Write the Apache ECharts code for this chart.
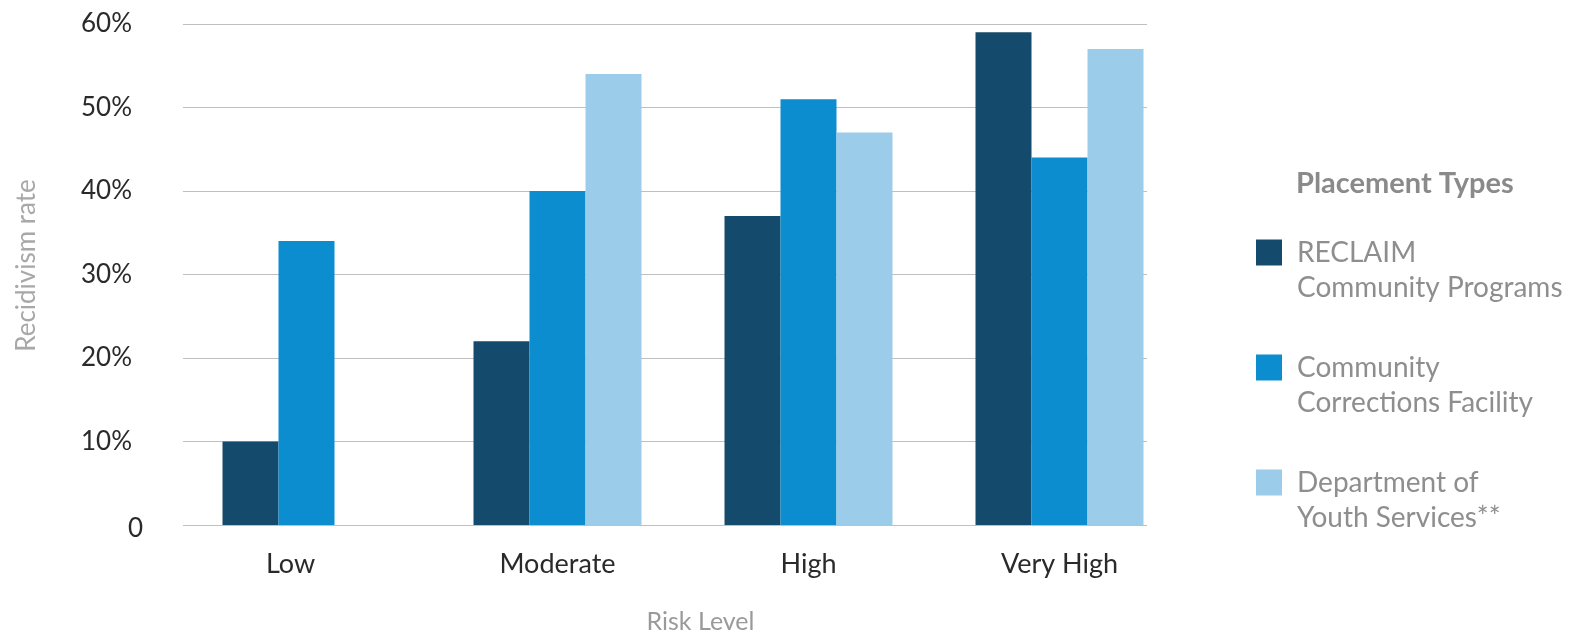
<!DOCTYPE html>
<html>
<head>
<meta charset="utf-8">
<script src="https://cdn.jsdelivr.net/npm/echarts@6/dist/echarts.min.js"></script>
<style>
  html, body { margin: 0; padding: 0; background: #ffffff; }
  #chart { width: 1577px; height: 635px; }
</style>
</head>
<body>
<div id="chart"></div>
<script>
// Risk levels along the horizontal axis
const riskLevels = ['Low', 'Moderate', 'High', 'Very High'];

// Recidivism rate (%) for each placement type
const reclaimPrograms = [10, 22, 37, 59];
const correctionsFacility = [34, 40, 51, 44];
const youthServices = [null, 54, 47, 57];

// Series names as shown in the legend
const seriesNames = [
  'RECLAIM\nCommunity Programs',
  'Community\nCorrections Facility',
  'Department of\nYouth Services**'
];
const seriesColors = ['#144a6b', '#0b8dcf', '#9bcdea'];

// Value axis ticks
const rateMin = 0;
const rateMax = 60;
const rateStep = 10;

const FONT = 'Lato, "Open Sans", sans-serif';

const chart = echarts.init(document.getElementById('chart'), null, { renderer: 'canvas' });

const barSeries = [reclaimPrograms, correctionsFacility, youthServices].map((vals, i) => ({
  name: seriesNames[i],
  type: 'bar',
  xAxisIndex: 0,
  yAxisIndex: 0,
  data: vals,
  barWidth: 56,
  barGap: '0%',
  itemStyle: { color: seriesColors[i] },
  emphasis: { disabled: true }
}));

chart.setOption({
  animation: false,
  backgroundColor: '#ffffff',
  title: {
    text: 'Placement Types',
    left: 1291,
    top: 164,
    textStyle: { fontFamily: FONT, fontSize: 29, fontWeight: 'bold', color: '#8a8a8a' }
  },
  legend: {
    orient: 'vertical',
    left: 1251,
    top: 195,
    itemWidth: 26,
    itemHeight: 26,
    itemGap: 10,
    icon: 'rect',
    selectedMode: false,
    data: seriesNames,
    // leading blank line keeps the swatch level with the first line of text
    formatter: function (name) { return ' \n' + name; },
    textStyle: {
      fontFamily: FONT,
      fontSize: 28,
      lineHeight: 35,
      color: '#8e8e8e',
      padding: [0, 0, 0, 10]
    }
  },
  grid: [
    // bars
    { left: 181, right: 1577 - 1185, top: 24, bottom: 110, outerBoundsMode: 'none' },
    // gridlines and rate labels
    { left: 183, right: 1577 - 1147, top: 24, bottom: 110, outerBoundsMode: 'none' }
  ],
  xAxis: [
    {
      gridIndex: 0,
      type: 'category',
      data: riskLevels,
      boundaryGap: true,
      axisLine: { show: false },
      axisTick: { show: false },
      axisLabel: {
        margin: 26,
        fontFamily: FONT,
        fontSize: 27,
        color: '#2a2a2a',
        formatter: function (v) { return v === 'Low' ? '{low|' + v + '}' : v; },
        rich: {
          low: { fontFamily: FONT, fontSize: 27, color: '#2a2a2a', padding: [0, 32, 0, 0] }
        }
      },
      name: 'Risk Level',
      nameLocation: 'middle',
      nameGap: 84,
      nameTextStyle: { fontFamily: FONT, fontSize: 25, color: '#9a9a9a', padding: [0, 0, 0, 35] }
    },
    {
      gridIndex: 1,
      type: 'value',
      min: 0,
      max: 1,
      show: false
    }
  ],
  yAxis: [
    {
      gridIndex: 0,
      type: 'value',
      min: rateMin,
      max: rateMax,
      interval: rateStep,
      show: false,
      splitLine: { show: false }
    },
    {
      gridIndex: 1,
      type: 'value',
      min: rateMin,
      max: rateMax,
      interval: rateStep,
      axisLine: { show: false },
      axisTick: { show: false },
      splitLine: { show: true, lineStyle: { color: '#c0c0c0', width: 1.2 } },
      axisLabel: {
        margin: 40,
        fontFamily: FONT,
        fontSize: 26,
        color: '#2a2a2a',
        formatter: function (v) { return v === 0 ? '{z|0}' : '{p|' + v + '%}'; },
        rich: {
          p: { fontFamily: FONT, fontSize: 26, color: '#2a2a2a', padding: [0, 11, 0, 0] },
          z: { fontFamily: FONT, fontSize: 26, color: '#2a2a2a', padding: [8, 0, 0, 0] }
        }
      },
      name: 'Recidivism rate',
      nameLocation: 'middle',
      nameGap: 143,
      nameTextStyle: { fontFamily: FONT, fontSize: 26, color: '#a8a8a8', padding: [0, 0, 0, 18] }
    }
  ],
  series: barSeries
});
</script>
</body>
</html>
